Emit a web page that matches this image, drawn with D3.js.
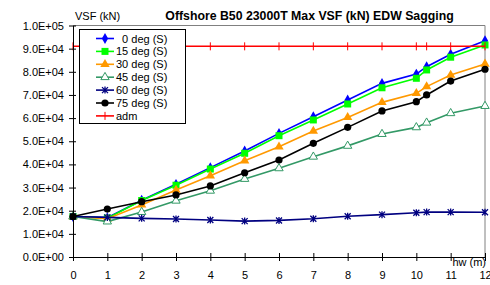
<!DOCTYPE html>
<html><head><meta charset="utf-8">
<script src="https://cdn.jsdelivr.net/npm/d3@7"></script>
<style>body{margin:0;background:#fff}svg{display:block;font-family:"Liberation Sans",Arial,sans-serif}</style>
</head><body><svg id="c" width="490" height="285"></svg>
<script>
const hw = [0,1,2,3,4,5,6,7,8,9,10,10.3,11,12];
const deg0  = [17500,17000,24500,31400,38600,45800,53400,60600,67800,75000,79000,82200,87600,93400];
const deg15 = [17500,16800,24400,31000,38000,44800,52400,59200,66100,73100,77200,80800,86300,91600];
const deg30 = [17500,16500,22500,28900,35100,41600,47600,54400,60300,66800,70700,73600,78600,83400];
const deg45 = [17500,15300,19400,24300,28600,33700,38300,43300,48000,53100,56000,58000,62100,65200];
const deg60 = [17500,17100,16700,16400,16000,15500,15800,16500,17600,18300,19100,19400,19400,19300];
const deg75 = [17500,20700,23900,26800,30700,36400,41900,49100,56000,63100,67100,70000,76000,81100];
const adm   = [91000,91000,91000,91000,91000,91000,91000,91000,91000,91000,91000,91000,91000,91000];
const seriesNames = ["  0 deg (S)","15 deg (S)","30 deg (S)","45 deg (S)","60 deg (S)","75 deg (S)","adm"];
const xTicks = [0,1,2,3,4,5,6,7,8,9,10,11,12];
const yTicks = [0,10000,20000,30000,40000,50000,60000,70000,80000,90000,100000];
const titleText = "Offshore B50 23000T Max VSF (kN) EDW Sagging";

const series = [
  {name:seriesNames[0], values:deg0, color:"#0000FF", marker:"diamond"},
  {name:seriesNames[1], values:deg15, color:"#00FF00", marker:"square"},
  {name:seriesNames[2], values:deg30, color:"#FF9900", marker:"triangle"},
  {name:seriesNames[3], values:deg45, color:"#339966", marker:"opentri"},
  {name:seriesNames[4], values:deg60, color:"#000080", marker:"star"},
  {name:seriesNames[5], values:deg75, color:"#000000", marker:"circle"},
  {name:seriesNames[6], values:adm, color:"#FF0000", marker:"plus"}
];

const svg = d3.select("#c");
const L=73,R=485,T=25.5,B=257;
const x = d3.scaleLinear().domain([0,12]).range([L,R]);
const y = d3.scaleLinear().domain([0,100000]).range([B,T]);

// frame (top/right gray)
svg.append("path").attr("d",`M${L},${T}H${R}V${B}`).attr("fill","none").attr("stroke","#808080").attr("stroke-width",1);

function drawMarker(g, type, cx, cy, color){
  switch(type){
    case "diamond": g.append("path").attr("d",d3.symbol(d3.symbolDiamond,34)()).attr("transform",`translate(${cx},${cy})`).attr("fill",color); break;
    case "square": g.append("rect").attr("x",cx-3.5).attr("y",cy-3.5).attr("width",7).attr("height",7).attr("fill",color); break;
    case "triangle": g.append("path").attr("d",d3.symbol(d3.symbolTriangle,38)()).attr("transform",`translate(${cx},${cy})`).attr("fill",color); break;
    case "opentri": g.append("path").attr("d",d3.symbol(d3.symbolTriangle,30)()).attr("transform",`translate(${cx},${cy})`).attr("fill","#fff").attr("stroke",color).attr("stroke-width",1); break;
    case "star": g.append("path").attr("d",`M${cx-3},${cy-3}L${cx+3},${cy+3}M${cx-3},${cy+3}L${cx+3},${cy-3}M${cx},${cy-3.5}V${cy+3.5}`).attr("stroke",color).attr("stroke-width",1.3); break;
    case "circle": g.append("circle").attr("cx",cx).attr("cy",cy).attr("r",3.6).attr("fill",color); break;
    case "plus": g.append("path").attr("d",`M${cx},${cy-4}V${cy+4}`).attr("stroke",color).attr("stroke-width",1); break;
  }
}

const line = d3.line().x((d,i)=>x(hw[i])).y(d=>y(d));
series.forEach(s=>{
  const g = svg.append("g");
  g.append("path").datum(s.values).attr("d",line).attr("fill","none").attr("stroke",s.color).attr("stroke-width",s.marker==="plus"?1.5:1.6);
  s.values.forEach((v,i)=>drawMarker(g,s.marker,x(hw[i]),y(v),s.color));
});

// axes
const yAxis = svg.append("g").attr("transform",`translate(${L},0)`)
  .call(d3.axisLeft(y).tickValues(yTicks).tickFormat(d=>{const e=d===0?0:Math.floor(Math.log10(d));const m=d/Math.pow(10,e);return m.toFixed(1)+"E+"+String(e).padStart(2,"0");}).tickSizeInner(4).tickSizeOuter(0).tickPadding(5));
yAxis.select(".domain").attr("stroke","#000");
yAxis.selectAll(".tick line").attr("x1",3).attr("x2",-4).attr("stroke","#000");
yAxis.selectAll("text").attr("font-size",11).attr("fill","#000").attr("font-family","Liberation Sans, Arial, sans-serif");

const xAxis = svg.append("g").attr("transform",`translate(0,${B})`)
  .call(d3.axisBottom(x).tickValues(xTicks).tickFormat(d3.format("d")).tickSizeInner(4).tickSizeOuter(0).tickPadding(10));
xAxis.select(".domain").attr("stroke","#000");
xAxis.selectAll(".tick line").attr("y1",-4).attr("y2",4).attr("stroke","#000");
xAxis.selectAll("text").attr("font-size",11).attr("fill","#000").attr("font-family","Liberation Sans, Arial, sans-serif");

// titles
svg.append("text").attr("x",75).attr("y",20).attr("font-size",11).text("VSF (kN)");
svg.append("text").attr("x",309.5).attr("y",20).attr("text-anchor","middle").attr("font-size",12.3).attr("font-weight","bold").text(titleText);
svg.append("text").attr("x",486).attr("y",266).attr("text-anchor","end").attr("font-size",11).text("hw (m)");

// legend
const lg = svg.append("g");
lg.append("rect").attr("x",79.5).attr("y",29.5).attr("width",106).attr("height",94).attr("fill","#fff").attr("stroke","#000").attr("stroke-width",1);
series.forEach((s,i)=>{
  const cy = 38.5 + i*12.9;
  lg.append("line").attr("x1",96).attr("x2",114).attr("y1",cy).attr("y2",cy).attr("stroke",s.color).attr("stroke-width",1.6);
  drawMarker(lg,s.marker,105,cy,s.color);
  lg.append("text").attr("x",116).attr("y",cy+4).attr("font-size",11).attr("xml:space","preserve").style("white-space","pre").text(s.name);
});
</script></body></html>
